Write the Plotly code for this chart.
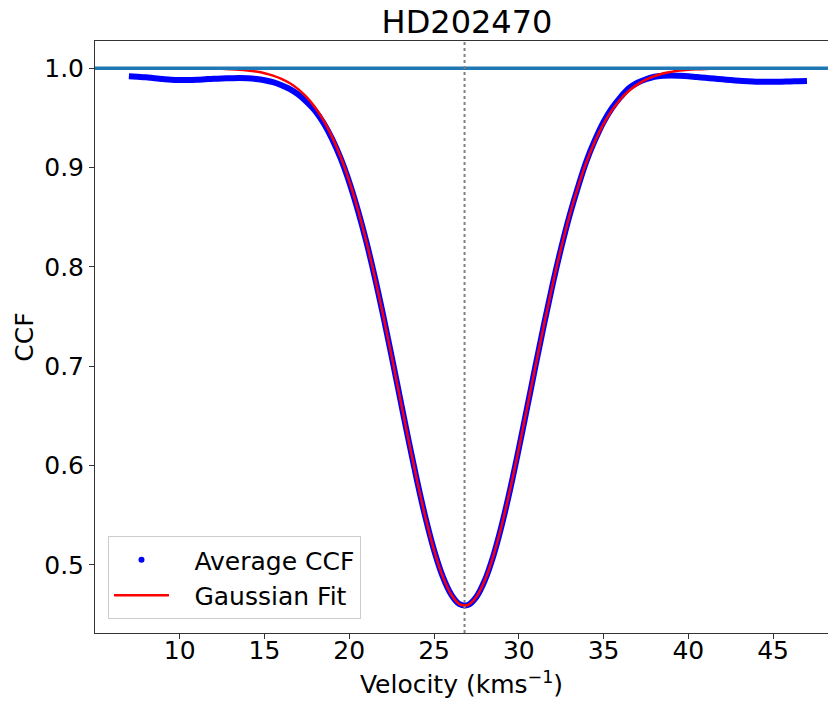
import plotly.graph_objects as go

# ---- data ----
velocity = [7.0, 7.5, 8.0, 8.5, 9.0, 9.5, 10.0, 10.5, 11.0, 11.5, 12.0, 12.5, 13.0, 13.5,
            14.0, 14.5, 15.0, 15.5, 16.0, 16.5, 17.0, 17.5, 18.0, 18.5, 19.0, 19.5, 20.0,
            20.5, 21.0, 21.5, 22.0, 22.5, 23.0, 23.5, 24.0, 24.5, 25.0, 25.5, 26.0, 26.5,
            27.0, 27.5, 28.0, 28.5, 29.0, 29.5, 30.0, 30.5, 31.0, 31.5, 32.0, 32.5, 33.0,
            33.5, 34.0, 34.5, 35.0, 35.5, 36.0, 36.5, 37.0, 37.5, 38.0, 38.5, 39.0, 39.5,
            40.0, 40.5, 41.0, 41.5, 42.0, 42.5, 43.0, 43.5, 44.0, 44.5, 45.0, 45.5, 46.0,
            46.5, 47.0]

average_ccf = [0.9920, 0.9915, 0.9910, 0.9900, 0.9892, 0.9885, 0.9882, 0.9882, 0.9885,
               0.9890, 0.9895, 0.9898, 0.9900, 0.9902, 0.9900, 0.9893, 0.9880, 0.9860,
               0.9830, 0.9790, 0.9735, 0.9660, 0.9570, 0.9445, 0.9285, 0.9090, 0.8853,
               0.8575, 0.8258, 0.7902, 0.7513, 0.7100, 0.6676, 0.6253, 0.5847, 0.5474,
               0.5150, 0.4890, 0.4706, 0.4606, 0.4597, 0.4679, 0.4847, 0.5092, 0.5405,
               0.5769, 0.6170, 0.6591, 0.7016, 0.7432, 0.7827, 0.8192, 0.8521, 0.8810,
               0.9070, 0.9280, 0.9460, 0.9600, 0.9710, 0.9800, 0.9855, 0.9890, 0.9915,
               0.9925, 0.9928, 0.9925, 0.9920, 0.9912, 0.9905, 0.9897, 0.9890, 0.9882,
               0.9875, 0.9870, 0.9866, 0.9864, 0.9864, 0.9866, 0.9868, 0.9870, 0.9872]

gaussian_fit = [1.0000, 1.0000, 1.0000, 1.0000, 1.0000, 1.0000, 1.0000, 0.9999, 0.9999,
                0.9998, 0.9997, 0.9995, 0.9991, 0.9986, 0.9978, 0.9967, 0.9951, 0.9927,
                0.9894, 0.9849, 0.9788, 0.9707, 0.9603, 0.9470, 0.9305, 0.9104, 0.8863,
                0.8582, 0.8261, 0.7903, 0.7513, 0.7100, 0.6676, 0.6253, 0.5847, 0.5474,
                0.5150, 0.4890, 0.4706, 0.4606, 0.4597, 0.4679, 0.4847, 0.5092, 0.5405,
                0.5769, 0.6170, 0.6591, 0.7016, 0.7432, 0.7827, 0.8192, 0.8521, 0.8810,
                0.9059, 0.9268, 0.9440, 0.9579, 0.9689, 0.9774, 0.9838, 0.9886, 0.9921,
                0.9947, 0.9964, 0.9977, 0.9985, 0.9990, 0.9994, 0.9996, 0.9998, 0.9999,
                0.9999, 1.0000, 1.0000, 1.0000, 1.0000, 1.0000, 1.0000, 1.0000, 1.0000]

center_velocity = 26.8
continuum = 1.0
x_ticks = [10, 15, 20, 25, 30, 35, 40, 45]
y_ticks = [0.5, 0.6, 0.7, 0.8, 0.9, 1.0]
legend_names = ["Average CCF", "Gaussian Fit"]

FONT = "DejaVu Sans"
FS = 25
PAD = "\u2002\u00a0"  # gap between legend symbol and label

fig = go.Figure()

# Average CCF (dense dots rendered as a thick band)
fig.add_trace(go.Scatter(
    x=velocity, y=average_ccf, mode="lines", line=dict(color="#0000ff", width=6, shape="spline"),
    name=legend_names[0], showlegend=False, legendgroup="a", hoverinfo="skip"))
# legend entry for the dots
fig.add_trace(go.Scatter(
    x=[None], y=[None], mode="markers", marker=dict(color="#0000ff", size=6),
    name=PAD + legend_names[0], legendgroup="a"))
# Gaussian fit
fig.add_trace(go.Scatter(
    x=velocity, y=gaussian_fit, mode="lines", line=dict(color="#ff0000", width=2.5, shape="spline"),
    name=PAD + legend_names[1], legendgroup="b"))

# continuum line and centre line
fig.add_shape(type="line", xref="paper", yref="y", x0=0, x1=1, y0=continuum, y1=continuum,
              line=dict(color="#1f77b4", width=3.5), layer="above")
fig.add_shape(type="line", xref="x", yref="paper", x0=center_velocity, x1=center_velocity,
              y0=0, y1=1, line=dict(color="#808080", width=2, dash="dot"), layer="above")

fig.update_layout(
    width=828, height=704,
    margin=dict(l=95, r=0, t=41, b=71),
    paper_bgcolor="white", plot_bgcolor="white",
    font=dict(family=FONT, size=FS, color="black"),
    title=dict(text="HD202470", font=dict(family=FONT, size=32, color="black"),
               x=467 / 828, xref="container", xanchor="center",
               y=1 - 22 / 704, yref="container", yanchor="middle"),
    legend=dict(x=0.0177, y=0.0236, xanchor="left", yanchor="bottom",
                bgcolor="rgba(255,255,255,0.8)", bordercolor="#cccccc", borderwidth=1,
                font=dict(family=FONT, size=FS, color="black"),
                traceorder="grouped", tracegroupgap=0, itemwidth=55),
    showlegend=True,
)

fig.update_xaxes(
    range=[5.0, 48.24], tickvals=x_ticks, ticks="outside", ticklen=5, tickwidth=1,
    tickcolor="#333333", showline=True, linecolor="#333333", linewidth=1, mirror=True,
    showgrid=False, zeroline=False, tickfont=dict(family=FONT, size=FS, color="black"),
    ticklabelposition="outside", ticklabelstandoff=-10,
    title=dict(text="Velocity (kms<sup>−1</sup>)", font=dict(family=FONT, size=FS, color="black"),
               standoff=11))
fig.update_yaxes(
    range=[0.4315, 1.0275], tickvals=y_ticks, tickformat=".1f", ticks="outside", ticklen=5,
    tickwidth=1, tickcolor="#333333", showline=True, linecolor="#333333", linewidth=1,
    showgrid=False, zeroline=False, tickfont=dict(family=FONT, size=FS, color="black"),
    title=dict(text="CCF", font=dict(family=FONT, size=FS, color="black"), standoff=3))

fig.write_html("out.html")
